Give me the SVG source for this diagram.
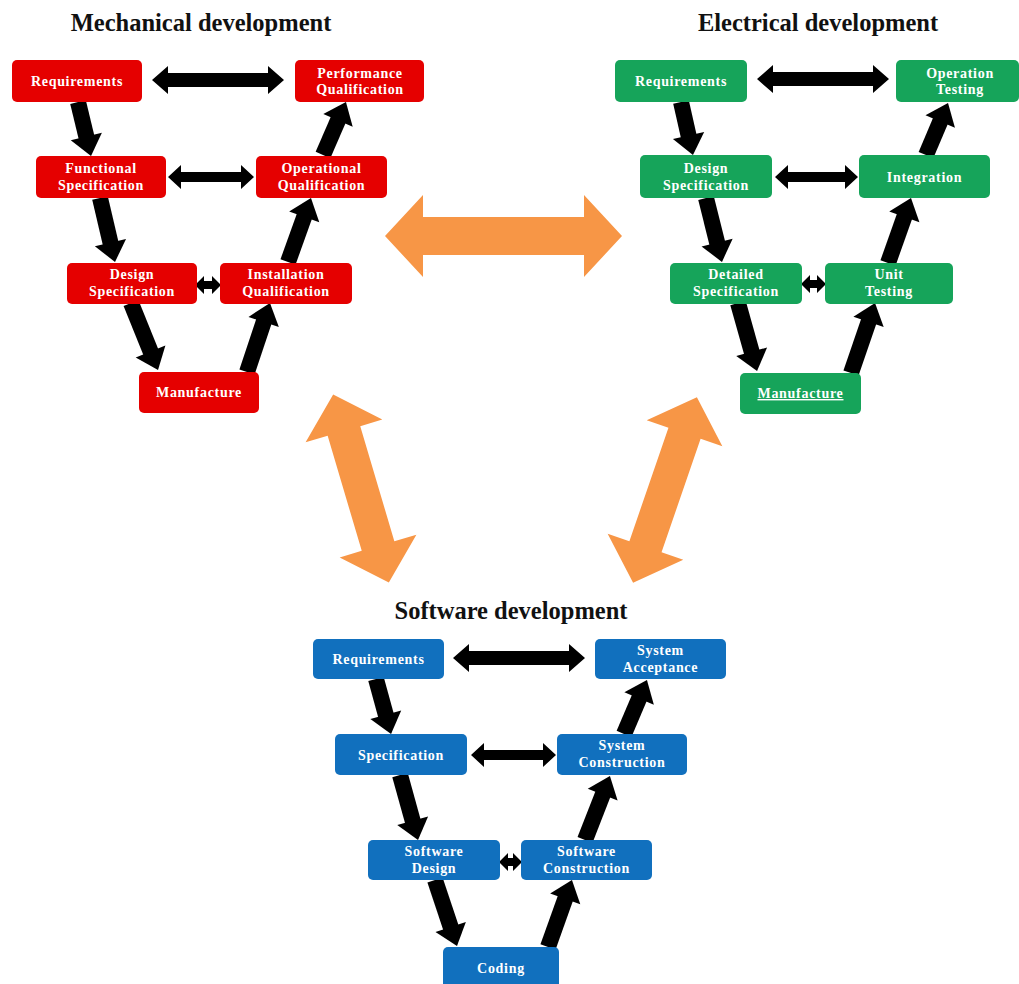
<svg xmlns="http://www.w3.org/2000/svg" width="1019" height="984" viewBox="0 0 1019 984">
<style>
.title{font-family:"Liberation Serif","Times New Roman",serif;font-weight:bold;font-size:24.5px;fill:#111;text-anchor:middle}
.lbl{font-family:"Liberation Serif","Times New Roman",serif;font-weight:bold;font-size:14px;letter-spacing:0.7px;fill:#fff;text-anchor:middle}
.red{fill:#E50000}
.green{fill:#16A45A}
.blue{fill:#1170BE}
.blk{fill:#000}
.org{fill:#F79646}
.sh{stroke:#000;stroke-width:16;fill:none;marker-end:url(#hd)}
</style>
<defs>
<marker id="hd" markerUnits="userSpaceOnUse" markerWidth="20" markerHeight="34" viewBox="-2 -17 20 34" refX="0" refY="0" orient="auto" overflow="visible">
<path d="M-2,-16 L18,0 L-2,16 Z" fill="#000"/>
</marker>
<path id="odbl" d="M-98 0 L-60 -40 L-60 -17 L60 -17 L60 -40 L98 0 L60 40 L60 17 L-60 17 L-60 40 Z"/>
</defs>
<rect width="1019" height="984" fill="#fff"/>
<g id="titles">
<text class="title" x="201" y="31">Mechanical development</text>
<text class="title" x="818" y="31">Electrical development</text>
<text class="title" x="511" y="619">Software development</text>
</g>
<g id="connectors">
<path class="org" d="M385 236 L423 195 L423 217 L584 217 L584 195 L622 236 L584 277 L584 255 L423 255 L423 277 Z"/>
<use href="#odbl" class="org" transform="translate(361,488.5) rotate(73.5)"/>
<use href="#odbl" class="org" transform="translate(665,490) rotate(109)"/>
<path class="blk" d="M152 80 L168 66 L168 73 L268 73 L268 66 L284 80 L268 94 L268 87 L168 87 L168 94 Z"/>
<path class="blk" d="M168 177 L181 165 L181 172 L241 172 L241 165 L254 177 L241 189 L241 182 L181 182 L181 189 Z"/>
<path class="blk" d="M195 285 L204 276 L204 281 L212 281 L212 276 L221 285 L212 294 L212 289 L204 289 L204 294 Z"/>
<path class="blk" d="M757 79 L773 65 L773 72 L873 72 L873 65 L889 79 L873 93 L873 86 L773 86 L773 93 Z"/>
<path class="blk" d="M775 177 L788 165 L788 172 L845 172 L845 165 L858 177 L845 189 L845 182 L788 182 L788 189 Z"/>
<path class="blk" d="M801 284 L810 275 L810 280 L817 280 L817 275 L826 284 L817 293 L817 288 L810 288 L810 293 Z"/>
<path class="blk" d="M453 658 L469 644 L469 651 L569 651 L569 644 L585 658 L569 672 L569 665 L469 665 L469 672 Z"/>
<path class="blk" d="M471 755 L484 743 L484 750 L543 750 L543 743 L556 755 L543 767 L543 760 L484 760 L484 767 Z"/>
<path class="blk" d="M499 862 L508 853 L508 858 L513 858 L513 853 L522 862 L513 871 L513 866 L508 866 L508 871 Z"/>
<line class="sh" x1="78" y1="102" x2="86.8" y2="138.5"/>
<line class="sh" x1="100" y1="198" x2="110.9" y2="244.5"/>
<line class="sh" x1="131" y1="303" x2="151.3" y2="353.3"/>
<line class="sh" x1="247" y1="372" x2="264.3" y2="320.1"/>
<line class="sh" x1="288" y1="262" x2="304.9" y2="214.9"/>
<line class="sh" x1="323" y1="155" x2="338.8" y2="118.5"/>
<line class="sh" x1="681" y1="102" x2="689" y2="137.4"/>
<line class="sh" x1="706" y1="198" x2="717.6" y2="244.5"/>
<line class="sh" x1="738" y1="303" x2="752.2" y2="353.7"/>
<line class="sh" x1="851" y1="373" x2="869.2" y2="320"/>
<line class="sh" x1="888" y1="263" x2="905" y2="215"/>
<line class="sh" x1="926" y1="155" x2="941" y2="119.6"/>
<line class="sh" x1="376" y1="679" x2="386.3" y2="716.6"/>
<line class="sh" x1="400" y1="775" x2="413.2" y2="822.6"/>
<line class="sh" x1="435" y1="880" x2="451.3" y2="928.9"/>
<line class="sh" x1="548" y1="947" x2="565.9" y2="896.9"/>
<line class="sh" x1="585" y1="840" x2="603.4" y2="792.8"/>
<line class="sh" x1="624" y1="734" x2="639.9" y2="696.6"/>
</g>
<g id="m_req"><rect class="red" x="12" y="60" width="130" height="42" rx="5"/><text class="lbl" x="77" y="86">Requirements</text></g>
<g id="m_pq"><rect class="red" x="295" y="60" width="129" height="42" rx="5"/><text class="lbl" x="360" y="78">Performance</text><text class="lbl" x="360" y="94">Qualification</text></g>
<g id="m_fs"><rect class="red" x="36" y="156" width="130" height="42" rx="5"/><text class="lbl" x="101" y="173">Functional</text><text class="lbl" x="101" y="190">Specification</text></g>
<g id="m_oq"><rect class="red" x="256" y="156" width="131" height="42" rx="5"/><text class="lbl" x="321.5" y="173">Operational</text><text class="lbl" x="321.5" y="190">Qualification</text></g>
<g id="m_ds"><rect class="red" x="67" y="263" width="130" height="41" rx="5"/><text class="lbl" x="132" y="279">Design</text><text class="lbl" x="132" y="296">Specification</text></g>
<g id="m_iq"><rect class="red" x="220" y="263" width="132" height="41" rx="5"/><text class="lbl" x="286" y="279">Installation</text><text class="lbl" x="286" y="296">Qualification</text></g>
<g id="m_man"><rect class="red" x="139" y="372" width="120" height="41" rx="5"/><text class="lbl" x="199" y="397">Manufacture</text></g>
<g id="e_req"><rect class="green" x="615" y="60" width="132" height="42" rx="5"/><text class="lbl" x="681" y="86">Requirements</text></g>
<g id="e_ot"><rect class="green" x="896" y="60" width="123" height="42" rx="5"/><text class="lbl" x="960" y="78">Operation</text><text class="lbl" x="960" y="94">Testing</text></g>
<g id="e_ds"><rect class="green" x="640" y="155" width="132" height="43" rx="5"/><text class="lbl" x="706" y="173">Design</text><text class="lbl" x="706" y="190">Specification</text></g>
<g id="e_int"><rect class="green" x="859" y="155" width="131" height="43" rx="5"/><text class="lbl" x="924.5" y="182">Integration</text></g>
<g id="e_dets"><rect class="green" x="670" y="263" width="132" height="41" rx="5"/><text class="lbl" x="736" y="279">Detailed</text><text class="lbl" x="736" y="296">Specification</text></g>
<g id="e_ut"><rect class="green" x="825" y="263" width="128" height="41" rx="5"/><text class="lbl" x="889" y="279">Unit</text><text class="lbl" x="889" y="296">Testing</text></g>
<g id="e_man"><rect class="green" x="740" y="373" width="121" height="41" rx="5"/><text class="lbl" x="800.5" y="398" text-decoration="underline">Manufacture</text></g>
<g id="s_req"><rect class="blue" x="313" y="639" width="131" height="40" rx="5"/><text class="lbl" x="378.5" y="664">Requirements</text></g>
<g id="s_sa"><rect class="blue" x="595" y="639" width="131" height="40" rx="5"/><text class="lbl" x="660.5" y="655">System</text><text class="lbl" x="660.5" y="672">Acceptance</text></g>
<g id="s_spec"><rect class="blue" x="335" y="734" width="132" height="41" rx="5"/><text class="lbl" x="401" y="760">Specification</text></g>
<g id="s_sc"><rect class="blue" x="557" y="734" width="130" height="41" rx="5"/><text class="lbl" x="622" y="750">System</text><text class="lbl" x="622" y="767">Construction</text></g>
<g id="s_sd"><rect class="blue" x="368" y="840" width="132" height="40" rx="5"/><text class="lbl" x="434" y="856">Software</text><text class="lbl" x="434" y="873">Design</text></g>
<g id="s_swc"><rect class="blue" x="521" y="840" width="131" height="40" rx="5"/><text class="lbl" x="586.5" y="856">Software</text><text class="lbl" x="586.5" y="873">Construction</text></g>
<g id="s_cod"><rect class="blue" x="443" y="947" width="116" height="44" rx="5"/><text class="lbl" x="501" y="973">Coding</text></g>
</svg>
